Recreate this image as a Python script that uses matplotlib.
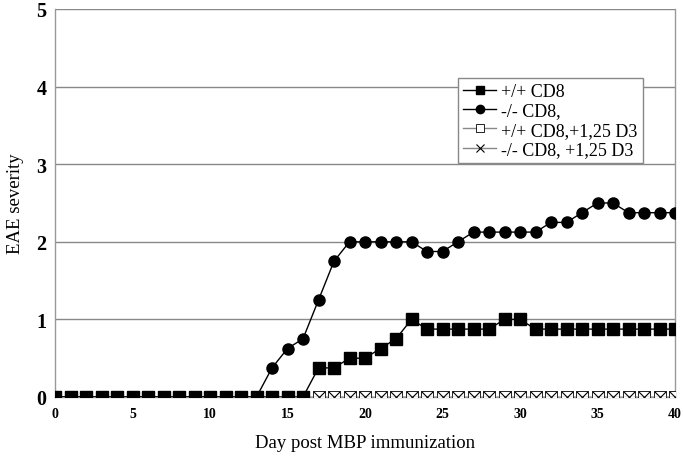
import matplotlib
matplotlib.use("Agg")
from matplotlib import pyplot as plt

days = list(range(41))

wt_cd8 = [0] * 17 + [0.375, 0.375, 0.5, 0.5, 0.625, 0.75, 1.0,
                     0.875, 0.875, 0.875, 0.875, 0.875, 1.0, 1.0] + [0.875] * 10
ko_cd8 = [0] * 14 + [0.375, 0.625, 0.75, 1.25, 1.75, 2.0, 2.0, 2.0, 2.0, 2.0,
                     1.875, 1.875, 2.0, 2.125, 2.125, 2.125, 2.125, 2.125,
                     2.25, 2.25, 2.375, 2.5, 2.5, 2.375, 2.375, 2.375, 2.375]
wt_cd8_d3 = [0] * 41
ko_cd8_d3 = [0] * 41

labels = ["+/+ CD8", "-/- CD8,", "+/+ CD8,+1,25 D3", "-/- CD8, +1,25 D3"]

plt.rcParams['font.family'] = ['Liberation Serif', 'DejaVu Serif']

fig = plt.figure(figsize=(6.83, 4.64), dpi=100)
ax = fig.add_axes([55 / 683, 66 / 464, 620 / 683, 388 / 464])

l3, = ax.plot(days, wt_cd8_d3, color='#888888', lw=1, marker='s', ms=8,
              mfc='white', mec='black', mew=0.6, zorder=3)
l4, = ax.plot(days, ko_cd8_d3, color='#888888', lw=1, marker='x', ms=8,
              mec='black', mew=0.8, zorder=4)
l2, = ax.plot(days, ko_cd8, color='black', lw=1, marker='o', ms=8,
              mfc='black', mec='black', zorder=5)
l1, = ax.plot(days, wt_cd8, color='black', lw=1, marker='s', ms=8,
              mfc='black', mec='black', zorder=6)

ax.set_xlim(0, 40)
ax.set_ylim(0, 5)
ax.set_xticks(range(0, 41, 5))
ax.set_yticks(range(0, 6))
ax.tick_params(axis='x', length=0, labelsize=10, pad=7)
ax.tick_params(axis='y', length=0, labelsize=14.5, pad=6)
for t in ax.get_xticklabels() + ax.get_yticklabels():
    t.set_fontweight('bold')

ax.grid(axis='y', color='#888888', lw=1)
ax.set_axisbelow(True)
for side in ['left', 'right', 'top', 'bottom']:
    ax.spines[side].set_color('#999999')
    ax.spines[side].set_linewidth(1)
ax.spines['top'].set_visible(False)

ax.set_xlabel('Day post MBP immunization', fontsize=13.5, labelpad=10)
ax.set_ylabel('EAE severity', fontsize=13.5, labelpad=9)

leg = ax.legend([l1, l2, l3, l4], labels, loc='upper left',
                bbox_to_anchor=((458 - 55) / 620, (398 - 79) / 388),
                fontsize=13, frameon=True, fancybox=False, framealpha=1,
                edgecolor='#888888', handlelength=1.8, handletextpad=0.3,
                borderpad=0.3, labelspacing=0.12, borderaxespad=0,
                markerscale=0.75)
leg.get_frame().set_linewidth(1)

fig.savefig('out.png', dpi=100)
